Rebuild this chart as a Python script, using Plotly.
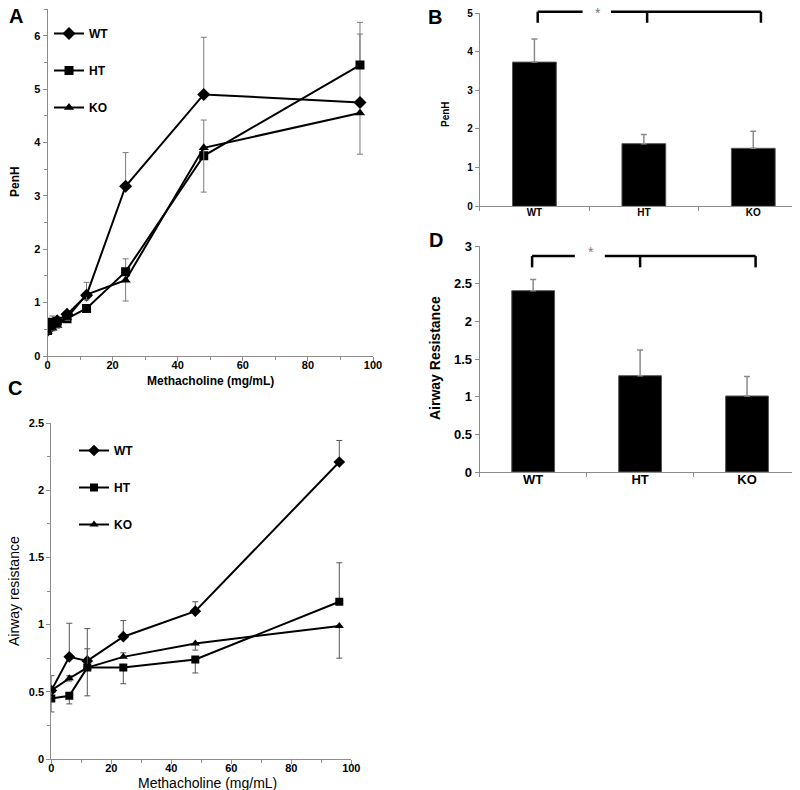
import plotly.graph_objects as go

# ---------------- data ----------------
genotypes = ["WT", "HT", "KO"]

# Panel A: PenH dose response
dose_a = [0, 1.5, 3, 6, 12, 24, 48, 96]
penh_wt = [0.48, 0.60, 0.66, 0.78, 1.14, 3.18, 4.90, 4.75]
penh_ht = [0.48, 0.63, 0.65, 0.70, 0.89, 1.58, 3.75, 5.45]
penh_ko = [0.46, 0.52, 0.57, 0.72, 1.15, 1.42, 3.90, 4.55]
penh_wt_up = [0.05, 0.08, 0.06, 0.06, 0.24, 0.63, 1.07, 1.28]
penh_ht_up = [0.04, 0.12, 0.06, 0.05, 0.07, 0.24, 0.67, 0.80]
penh_ko_down = [0.03, 0.05, 0.05, 0.05, 0.10, 0.39, 0.83, 0.77]

# Panel B: peak PenH
penh_peak = [3.73, 1.62, 1.50]
penh_peak_err = [0.60, 0.24, 0.44]

# Panel C: airway resistance dose response
dose_c = [0, 6, 12, 24, 48, 96]
res_wt = [0.51, 0.76, 0.73, 0.91, 1.10, 2.21]
res_ht = [0.45, 0.47, 0.68, 0.68, 0.74, 1.17]
res_ko = [0.51, 0.60, 0.68, 0.76, 0.86, 0.99]
res_wt_up = [0.11, 0.25, 0.24, 0.12, 0.07, 0.16]
res_ht_up = [0, 0, 0, 0, 0, 0.29]
res_ht_down = [0.10, 0.06, 0.21, 0.12, 0.10, 0]
res_ko_up = [0, 0.02, 0.14, 0.03, 0, 0]
res_ko_down = [0, 0.02, 0, 0, 0.05, 0.24]

# Panel D: peak airway resistance
res_peak = [2.41, 1.28, 1.01]
res_peak_err = [0.15, 0.34, 0.26]

# ---------------- styling ----------------
FONT = "Liberation Sans, Arial, sans-serif"
W, H = 800, 790
AXC = "#8c8c8c"


def dx(p):
    return p / W


def dy(p):
    return 1 - p / H


fig = go.Figure()

symbols = {"WT": "diamond", "HT": "square", "KO": "triangle-up"}
msize = {"WT": 10, "HT": 9, "KO": 9}

# Panel A
for name, ys, up, dn in [("WT", penh_wt, penh_wt_up, None),
                         ("HT", penh_ht, penh_ht_up, None),
                         ("KO", penh_ko, None, penh_ko_down)]:
    n = len(ys)
    fig.add_trace(go.Scatter(
        x=dose_a, y=ys, name=name, mode="lines+markers",
        line=dict(color="black", width=2),
        marker=dict(symbol=symbols[name], size=msize[name], color="black"),
        error_y=dict(type="data", symmetric=False,
                     array=up if up else [0] * n,
                     arrayminus=dn if dn else [0] * n,
                     color="#7a7a7a", thickness=1, width=3),
        xaxis="x", yaxis="y", legend="legend", legendgroup="a" + name,
    ))

# Panel C
for name, ys, up, dn in [("WT", res_wt, res_wt_up, None),
                         ("HT", res_ht, res_ht_up, res_ht_down),
                         ("KO", res_ko, res_ko_up, res_ko_down)]:
    n = len(ys)
    fig.add_trace(go.Scatter(
        x=dose_c, y=ys, name=name, mode="lines+markers",
        line=dict(color="black", width=2),
        marker=dict(symbol=symbols[name], size=msize[name] - 1, color="black"),
        error_y=dict(type="data", symmetric=False,
                     array=up if up else [0] * n,
                     arrayminus=dn if dn else [0] * n,
                     color="#555555", thickness=1, width=3),
        xaxis="x3", yaxis="y3", legend="legend2", legendgroup="c" + name,
    ))

# Panel B
fig.add_trace(go.Bar(
    x=genotypes, y=penh_peak, showlegend=False,
    marker=dict(color="black", line=dict(color="#555555", width=1)),
    error_y=dict(type="data", symmetric=False, array=penh_peak_err,
                 arrayminus=[0, 0, 0], color="#8a8a8a", thickness=1.5, width=3),
    xaxis="x2", yaxis="y2",
))

# Panel D
fig.add_trace(go.Bar(
    x=genotypes, y=res_peak, showlegend=False,
    marker=dict(color="black", line=dict(color="#555555", width=1)),
    error_y=dict(type="data", symmetric=False, array=res_peak_err,
                 arrayminus=[0, 0, 0], color="#8a8a8a", thickness=1.5, width=3),
    xaxis="x4", yaxis="y4",
))


def lin_axis(domain, rng, dtick, minor_dtick, anchor, size, standoff=0):
    d = dict(domain=domain, range=rng, dtick=dtick, tick0=0, automargin=False,
             showgrid=False, zeroline=False, showline=True, linecolor=AXC,
             linewidth=1, ticks="outside", ticklen=4, tickcolor=AXC,
             ticklabeloverflow="allow", ticklabelstandoff=standoff,
             tickfont=dict(family=FONT, size=size, color="black", weight="bold"),
             anchor=anchor, fixedrange=True)
    if minor_dtick:
        d["minor"] = dict(dtick=minor_dtick, ticks="outside", ticklen=3,
                          tickcolor=AXC, showgrid=False)
    return d


def cat_axis(domain, anchor, size, standoff=0):
    return dict(domain=domain, type="category", range=[-0.5, 2.5], automargin=False,
                showgrid=False, zeroline=False, showline=True, linecolor=AXC,
                linewidth=1, ticks="outside", ticklen=4, tickcolor=AXC,
                tickson="boundaries", ticklabeloverflow="allow",
                ticklabelstandoff=standoff,
                tickfont=dict(family=FONT, size=size, color="black", weight="bold"),
                anchor=anchor, fixedrange=True)


layout = dict(
    width=W, height=H, margin=dict(l=0, r=0, t=0, b=0, autoexpand=False),
    paper_bgcolor="white", plot_bgcolor="white",
    font=dict(family=FONT, color="black"),
    bargap=0.6,
    xaxis=lin_axis([dx(39.5), dx(365)], [0, 100], 20, 10, "y", 11, -5),
    yaxis=lin_axis([dy(348), dy(1)], [0, 6.5], 1, 0.5, "x", 11),
    xaxis2=cat_axis([dx(471.7), 1.0], "y2", 10, -3),
    yaxis2=lin_axis([dy(198.3), dy(5)], [0, 5], 1, None, "x2", 10),
    xaxis3=lin_axis([dx(43.3), dx(343.3)], [0, 100], 20, 10, "y3", 11, -5),
    yaxis3=lin_axis([dy(751), dy(415)], [0, 2.5], 0.5, 0.25, "x3", 11),
    xaxis4=cat_axis([dx(471.7), dx(792.5)], "y4", 13, -5),
    yaxis4=lin_axis([dy(464), dy(238.3)], [0, 3], 0.5, None, "x4", 13),
    legend=dict(x=dx(41), y=dy(11), xanchor="left", yanchor="top",
                bgcolor="rgba(0,0,0,0)", tracegroupgap=18,
                font=dict(family=FONT, size=12, color="black", weight="bold")),
    legend2=dict(x=dx(66), y=dy(428), xanchor="left", yanchor="top",
                 bgcolor="rgba(0,0,0,0)", tracegroupgap=18,
                 font=dict(family=FONT, size=12, color="black", weight="bold")),
)

# significance brackets
shapes = []
BR = dict(color="black", width=2.5)
# Panel B bracket (level above the axis top, use domain reference)
b_level = 5.03 / 5.0
b_drop = 4.75 / 5.0
for x0, x1 in [(0.03, 0.44), (0.70, 2.07)]:
    shapes.append(dict(type="line", xref="x2", yref="y2 domain", x0=x0, x1=x1,
                       y0=b_level, y1=b_level, line=BR))
for xv in (0.03, 1.03, 2.07):
    shapes.append(dict(type="line", xref="x2", yref="y2 domain", x0=xv, x1=xv,
                       y0=b_level, y1=b_drop, line=BR))
# Panel D bracket
d_level, d_drop = 2.87, 2.72
for x0, x1 in [(-0.01, 0.39), (0.67, 2.08)]:
    shapes.append(dict(type="line", xref="x4", yref="y4", x0=x0, x1=x1,
                       y0=d_level, y1=d_level, line=BR))
for xv in (-0.01, 1.0, 2.08):
    shapes.append(dict(type="line", xref="x4", yref="y4", x0=xv, x1=xv,
                       y0=d_level, y1=d_drop, line=BR))
layout["shapes"] = shapes

ann = []
# panel letters
for letter, xp, yp in [("A", 8, 8), ("B", 427, 9), ("C", 7, 380), ("D", 428, 232)]:
    ann.append(dict(text=letter, x=dx(xp), y=dy(yp), xref="paper", yref="paper",
                    showarrow=False, xanchor="center", yanchor="middle",
                    font=dict(family=FONT, size=20, color="black", weight="bold")))
# axis titles
for text, xp, yp, size, weight, angle in [
        ("PenH", 7, 174, 12, "bold", -90),
        ("Methacholine (mg/mL)", 202, 373, 12, "bold", 0),
        ("PenH", 437, 106, 10, "bold", -90),
        ("Airway resistance", 6, 583, 14, "normal", -90),
        ("Methacholine (mg/mL)", 199, 775, 14, "normal", 0),
        ("Airway Resistance", 427, 350, 14, "bold", -90)]:
    ann.append(dict(text=text, x=dx(xp), y=dy(yp), xref="paper", yref="paper",
                    showarrow=False, xanchor="center", yanchor="middle",
                    textangle=angle,
                    font=dict(family=FONT, size=size, color="black", weight=weight)))
# significance asterisks
ann.append(dict(text="*", x=0.577, y=1.0, xref="x2", yref="y2 domain",
                showarrow=False, xanchor="center", yanchor="middle",
                font=dict(family=FONT, size=14, color="#777777")))
ann.append(dict(text="*", x=0.54, y=2.93, xref="x4", yref="y4",
                showarrow=False, xanchor="center", yanchor="middle",
                font=dict(family=FONT, size=14, color="#777777")))
layout["annotations"] = ann

fig.update_layout(**layout)
fig.write_html("out.html")
